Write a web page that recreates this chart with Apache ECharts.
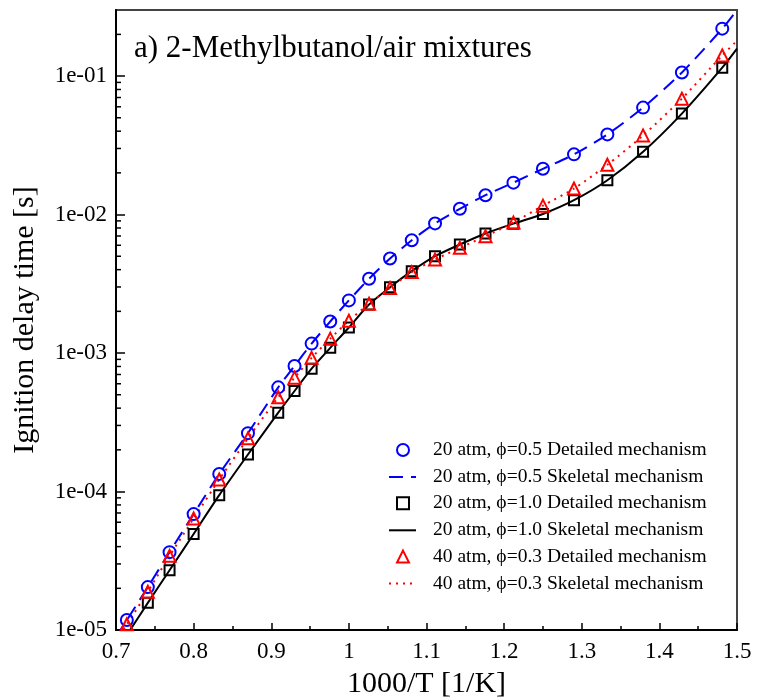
<!DOCTYPE html>
<html>
<head>
<meta charset="utf-8">
<script src="https://cdn.jsdelivr.net/npm/echarts@6/dist/echarts.min.js"></script>
<style>html,body{margin:0;padding:0;background:#fff}#c{width:757px;height:700px}</style>
</head>
<body>
<div id="c"></div>
<script>
// 1000/T values of the detailed-mechanism points
const invT = [0.714, 0.741, 0.769, 0.800, 0.833, 0.870, 0.909, 0.930, 0.952, 0.976, 1.000, 1.026,
              1.053, 1.081, 1.111, 1.143, 1.176, 1.212, 1.250, 1.290, 1.333, 1.379, 1.429, 1.481];
// 1000/T values along the skeletal-mechanism curves
const lineX = [0.700, 0.714, 0.741, 0.769, 0.800, 0.833, 0.870, 0.909, 0.930, 0.952, 0.976, 1.000, 1.026,
               1.053, 1.081, 1.111, 1.143, 1.176, 1.212, 1.250, 1.290, 1.333, 1.379, 1.429, 1.481, 1.500];

// 20 atm, phi=0.5
const det05 = [1.18e-5, 2.04e-5, 3.65e-5, 6.87e-5, 1.34e-4, 2.64e-4, 5.65e-4, 8.07e-4, 1.17e-3, 1.69e-3, 2.40e-3, 3.44e-3,
               4.82e-3, 6.53e-3, 8.63e-3, 1.10e-2, 1.38e-2, 1.70e-2, 2.14e-2, 2.72e-2, 3.79e-2, 5.92e-2, 0.106, 0.220];
const skel05 = [8.9e-6, 1.18e-5, 2.04e-5, 3.65e-5, 6.87e-5, 1.34e-4, 2.64e-4, 5.65e-4, 8.07e-4, 1.17e-3, 1.69e-3, 2.40e-3, 3.44e-3,
               4.82e-3, 6.53e-3, 8.63e-3, 1.10e-2, 1.38e-2, 1.70e-2, 2.14e-2, 2.72e-2, 3.79e-2, 5.92e-2, 0.106, 0.220, 0.300];
// 20 atm, phi=1.0
const det10 = [null, 1.57e-5, 2.70e-5, 4.94e-5, 9.41e-5, 1.85e-4, 3.71e-4, 5.32e-4, 7.71e-4, 1.09e-3, 1.53e-3, 2.24e-3,
               2.99e-3, 3.90e-3, 5.00e-3, 6.08e-3, 7.30e-3, 8.60e-3, 1.01e-2, 1.27e-2, 1.77e-2, 2.84e-2, 5.36e-2, 0.115];
const skel10 = [6.9e-6, 9.2e-6, 1.57e-5, 2.70e-5, 4.94e-5, 9.41e-5, 1.85e-4, 3.71e-4, 5.32e-4, 7.71e-4, 1.09e-3, 1.53e-3, 2.24e-3,
               2.99e-3, 3.90e-3, 5.00e-3, 6.08e-3, 7.30e-3, 8.60e-3, 1.01e-2, 1.27e-2, 1.77e-2, 2.84e-2, 5.36e-2, 0.115, 0.158];
// 40 atm, phi=0.3
const det03 = [1.10e-5, 1.89e-5, 3.43e-5, 6.38e-5, 1.22e-4, 2.42e-4, 4.79e-4, 6.64e-4, 9.23e-4, 1.27e-3, 1.71e-3, 2.27e-3,
               2.95e-3, 3.84e-3, 4.73e-3, 5.75e-3, 6.98e-3, 8.75e-3, 1.16e-2, 1.54e-2, 2.29e-2, 3.73e-2, 6.87e-2, 0.141];
const skel03 = [8.3e-6, 1.10e-5, 1.89e-5, 3.43e-5, 6.38e-5, 1.22e-4, 2.42e-4, 4.79e-4, 6.64e-4, 9.23e-4, 1.27e-3, 1.71e-3, 2.27e-3,
               2.95e-3, 3.84e-3, 4.73e-3, 5.75e-3, 6.98e-3, 8.75e-3, 1.16e-2, 1.54e-2, 2.29e-2, 3.73e-2, 6.87e-2, 0.141, 0.180];

const seriesNames = [
  '20 atm, \u03d5=0.5 Detailed mechanism',
  '20 atm, \u03d5=0.5 Skeletal mechanism',
  '20 atm, \u03d5=1.0 Detailed mechanism',
  '20 atm, \u03d5=1.0 Skeletal mechanism',
  '40 atm, \u03d5=0.3 Detailed mechanism',
  '40 atm, \u03d5=0.3 Skeletal mechanism'
];
const titleText = 'a) 2-Methylbutanol/air mixtures';
const xName = '1000/T [1/K]';
const yName = 'Ignition delay time [s]';
const yMin = 1e-5, yMax = 0.3, xMin = 0.7, xMax = 1.5;

// minor tick values on the log axis (2..9 x 10^k)
const yMinor = [];
for (let e = -5; e <= -1; e++) for (let m = 2; m <= 9; m++) { const v = m * Math.pow(10, e); if (v < yMax) yMinor.push(v); }

const pair = (xs, ys) => xs.map((x, i) => [x, ys[i]]).filter(p => p[1] != null);
const FONT = '"Liberation Serif", "DejaVu Serif", serif';

const scatter = (name, ys, symbol, color, size) => ({
  name, type: 'scatter', data: pair(invT, ys), symbol, symbolSize: size, z: 5,
  itemStyle: { color: 'transparent', borderColor: color, borderWidth: 2, opacity: 1 }
});
const line = (name, ys, color, type, width) => ({
  name, type: 'line', data: pair(lineX, ys), showSymbol: false, symbol: 'none', smooth: 0.25, z: 3,
  lineStyle: { color, type, width }, itemStyle: { color: 'transparent', borderWidth: 0 }
});
const legendText = pad => ({ fontFamily: FONT, fontSize: 19.5, color: '#000', padding: [0, 0, 0, pad] });

const chart = echarts.init(document.getElementById('c'), null, { renderer: 'canvas' });
chart.setOption({
  animation: false,
  backgroundColor: '#fff',
  title: { text: titleText, left: 129, top: 28, textStyle: { fontFamily: FONT, fontSize: 31, fontWeight: 'normal', color: '#000' } },
  grid: {
    left: 116, right: 20, top: 10, bottom: 70, containLabel: false, outerBoundsMode: 'none',
    show: true, borderColor: '#444', borderWidth: 2, backgroundColor: 'transparent'
  },
  legend: [
    {
      orient: 'vertical', left: 391, top: 435, itemWidth: 12, itemHeight: 12, itemGap: 33.3,
      data: [seriesNames[0], seriesNames[2], seriesNames[4]],
      textStyle: legendText(19)
    },
    {
      orient: 'vertical', left: 383, top: 462, itemWidth: 27, itemHeight: 12, itemGap: 33.3,
      data: [seriesNames[1], seriesNames[3], seriesNames[5]],
      textStyle: legendText(12)
    }
  ],
  xAxis: {
    type: 'value', min: xMin, max: xMax, interval: 0.1,
    name: xName, nameLocation: 'middle', nameGap: 39,
    nameTextStyle: { fontFamily: FONT, fontSize: 30, color: '#000' },
    axisLine: { onZero: false, lineStyle: { color: '#000', width: 2 } },
    axisTick: { inside: true, length: 7, lineStyle: { color: '#000', width: 1.5 } },
    minorTick: { show: true, splitNumber: 2, length: 4, lineStyle: { color: '#000', width: 1.5 } },
    splitLine: { show: false },
    axisLabel: { fontFamily: FONT, fontSize: 23, color: '#000', margin: 10, showMaxLabel: true, showMinLabel: true }
  },
  yAxis: {
    type: 'log', logBase: 10, min: yMin, max: yMax, interval: 1,
    name: yName, nameLocation: 'middle', nameGap: 76, nameRotate: 90,
    nameTextStyle: { fontFamily: FONT, fontSize: 30, color: '#000' },
    axisLine: { lineStyle: { color: '#000', width: 2 } },
    axisTick: { inside: true, length: 9, lineStyle: { color: '#000', width: 1.5 } },
    splitLine: { show: false },
    axisLabel: {
      fontFamily: FONT, fontSize: 23, color: '#000', margin: 9, showMaxLabel: false,
      formatter: v => { const e = Math.round(Math.log10(v)); return '1e-' + String(-e).padStart(2, '0'); }
    }
  },
  series: [
    line(seriesNames[1], skel05, '#0000ff', [14, 8], 2),
    line(seriesNames[3], skel10, '#000000', 'solid', 2),
    line(seriesNames[5], skel03, '#ff0000', [2, 5], 2),
    scatter(seriesNames[0], det05, 'circle', '#0000ff', 12),
    scatter(seriesNames[2], det10, 'rect', '#000000', 10),
    scatter(seriesNames[4], det03, 'triangle', '#ff0000', 12),
    {
      type: 'custom', name: 'yMinorTicks', silent: true, z: 6,
      data: yMinor.map(v => [xMin, v]),
      renderItem: (params, api) => {
        const p = api.coord([xMin, api.value(1)]);
        return { type: 'line', shape: { x1: p[0], y1: p[1], x2: p[0] + 5, y2: p[1] }, style: { stroke: '#000', lineWidth: 1.5 } };
      }
    }
  ]
});
</script>
</body>
</html>
